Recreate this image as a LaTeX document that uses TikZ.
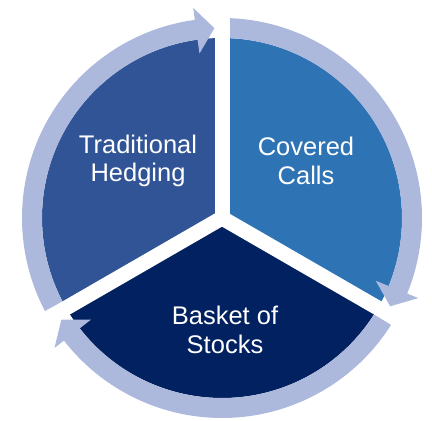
\documentclass[tikz,border=0pt]{standalone}
\usepackage{fontspec}
\setmainfont{Liberation Sans}

\definecolor{hedgeblue}{RGB}{48,84,150}
\definecolor{callblue}{RGB}{46,116,181}
\definecolor{stockblue}{RGB}{2,33,96}
\definecolor{ringblue}{RGB}{172,185,220}

% ring arrow: tail angle, back of head, tip
\newcommand{\ringarrow}[3]{%
  \fill[ringblue] (#1:200) arc[start angle=#1, end angle=#2, radius=200pt]
    -- (#2:212) -- (#3:190) -- (#2:166) -- (#2:180)
    arc[start angle=#2, end angle=#1, radius=180pt] -- cycle;}

\begin{document}
\begin{tikzpicture}[x=1pt,y=1pt,
  sectortext/.style={text=white, align=center, font=\fontsize{25.5}{28.5}\selectfont},
  gapline/.style={white, line width=15pt}]
\useasboundingbox (0,0) rectangle (432,421);

\begin{scope}[shift={(222,203)}]
%the three sectors
\fill[hedgeblue] (0,0) -- (90:180) arc[start angle=90, end angle=210, radius=180pt] -- cycle;
\fill[callblue] (0,0) -- (-30:180) arc[start angle=-30, end angle=90, radius=180pt] -- cycle;
\fill[stockblue] (0,0) -- (210:180) arc[start angle=210, end angle=330, radius=180pt] -- cycle;

%the arrows round the outside
\ringarrow{207.7}{97.8}{92.3}
\ringarrow{87.7}{-22.2}{-27.7}
\ringarrow{327.7}{217.8}{212.3}

%white gaps between the sectors
\foreach \a in {90,210,330}
  \draw[gapline] (0,0) -- (\a:225);
\end{scope}

%the texts
\node[sectortext] (hedging) at (138,260) {Traditional\\Hedging};
\node[sectortext] (calls) at (306,260) {Covered\\Calls};
\node[sectortext] (stocks) at (225,91) {Basket of\\Stocks};
\end{tikzpicture}
\end{document}
